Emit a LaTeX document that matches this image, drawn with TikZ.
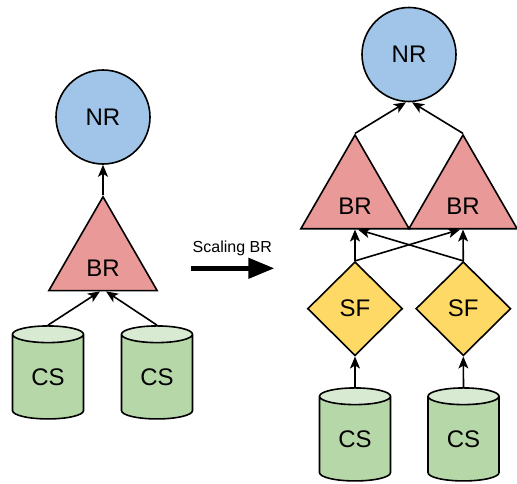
\documentclass[tikz,border=0pt]{standalone}
\usepackage{fontspec}
\setmainfont{Liberation Sans}
\usetikzlibrary{shapes.geometric,arrows.meta,calc}
\definecolor{nrblue}{HTML}{A0C5E8}
\definecolor{brpink}{HTML}{EA9999}
\definecolor{csgreen}{HTML}{B6D7A8}
\definecolor{cstop}{HTML}{D9EAD3}
\definecolor{sfyellow}{HTML}{FFD966}
\begin{document}
\begin{tikzpicture}[x=1pt,y=-1pt,
  base/.style={draw=black,line width=1.6pt,inner sep=0pt,font=\fontsize{24}{28}\selectfont},
  nrnode/.style={base,circle,fill=nrblue,minimum size=94pt},
  brnode/.style={base,regular polygon,regular polygon sides=3,fill=brpink,minimum size=125pt},
  sfnode/.style={base,diamond,aspect=1,fill=sfyellow,minimum width=95pt,minimum height=94pt},
  csnode/.style={base,cylinder,shape border rotate=90,aspect=0.5,minimum width=71pt,minimum height=93pt,
    cylinder uses custom fill,cylinder body fill=csgreen,cylinder end fill=cstop},
  brtext/.style={font=\fontsize{24}{28}\selectfont,inner sep=0pt,yshift=-9pt},
  link/.style={line width=1.6pt,-{Stealth[length=12pt,width=10pt,inset=3pt]}},
  bigarrow/.style={line width=4.5pt,-{Triangle[length=26pt,width=20pt]}}
]
\useasboundingbox (0,0) rectangle (517,483);
% left diagram
\node[nrnode] (nrL) at (103,117) {NR};
\node[brnode,label={[brtext]center:BR}] (brL) at (103,259.3) {};
\node[csnode] (csL1) at (48,377) {CS};
\node[csnode] (csL2) at (157,377) {CS};
\draw[link] (brL.corner 1) -- (nrL.south);
\draw[link] (csL1.top) -- ($(brL.side 2)+(-3,0)$);
\draw[link] (csL2.top) -- ($(brL.side 2)+(3,0)$);
% scaling arrow
\node[font=\fontsize{16}{19}\selectfont,inner sep=0pt] (scal) at (232.3,248) {Scaling BR};
\coordinate (sa) at (191,268.3);
\coordinate (sb) at (274.3,268.3);
\draw[bigarrow] (sa) -- (sb);
% right diagram
\node[nrnode] (nrR) at (409,54.5) {NR};
\node[brnode,label={[brtext]center:BR}] (brA) at (355,197.5) {};
\node[brnode,label={[brtext]center:BR}] (brB) at (463,197.5) {};
\node[sfnode] (sfA) at (355,308.7) {SF};
\node[sfnode] (sfB) at (463.3,308.7) {SF};
\node[csnode] (csA) at (355,439) {CS};
\node[csnode] (csB) at (463.5,439) {CS};
\draw[link] (brA.corner 1) -- ($(nrR.south)+(-3,0)$);
\draw[link] (brB.corner 1) -- ($(nrR.south)+(3,0)$);
\draw[link] (sfA.north) -- (brA.side 2);
\draw[link] (sfB.north) -- (brB.side 2);
\draw[link] (sfA.north) -- ($(brB.side 2)+(-3,0)$);
\draw[link] (sfB.north) -- ($(brA.side 2)+(3,0)$);
\draw[link] (csA.top) -- (sfA.south);
\draw[link] (csB.top) -- (sfB.south);
\end{tikzpicture}
\end{document}
